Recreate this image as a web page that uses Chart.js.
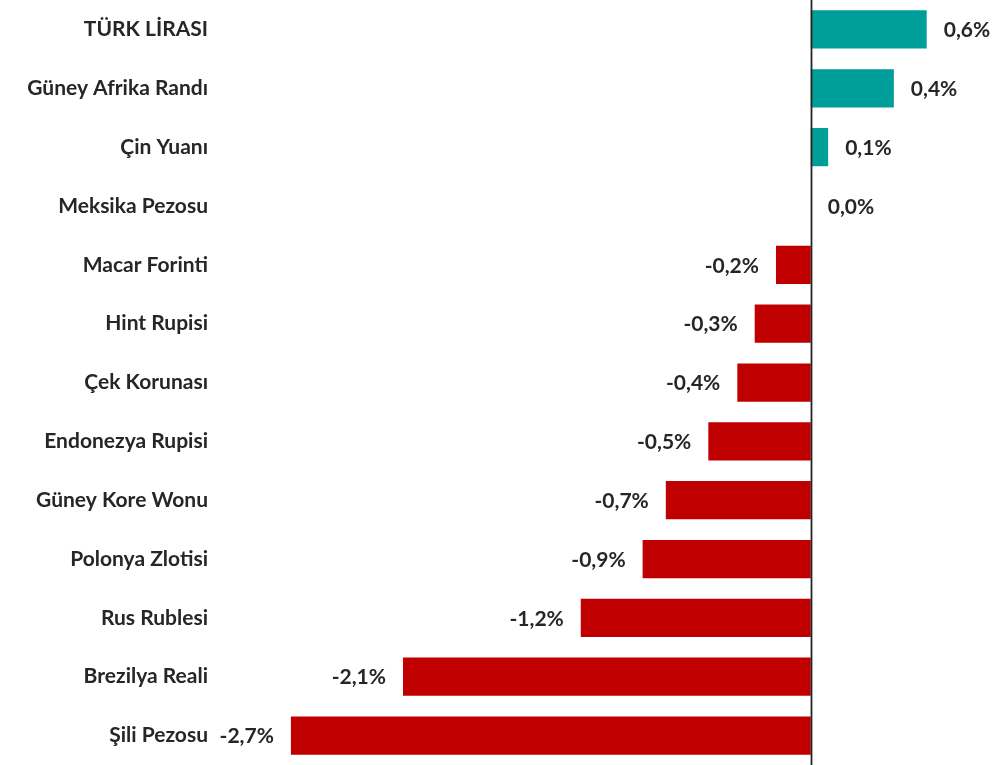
<!DOCTYPE html>
<html>
<head>
<meta charset="utf-8">
<script src="https://cdn.jsdelivr.net/npm/chart.js@4/dist/chart.umd.min.js"></script>
<style>
  html, body { margin: 0; padding: 0; background: #fff; }
  #wrap { width: 1007px; height: 765px; }
</style>
</head>
<body>
<div id="wrap"><canvas id="chart" width="1007" height="765"></canvas></div>
<script>
/*Data*/
var currencies = ['TÜRK LİRASI', 'Güney Afrika Randı', 'Çin Yuanı', 'Meksika Pezosu', 'Macar Forinti',
                  'Hint Rupisi', 'Çek Korunası', 'Endonezya Rupisi', 'Güney Kore Wonu', 'Polonya Zlotisi',
                  'Rus Rublesi', 'Brezilya Reali', 'Şili Pezosu'];
var changes = [0.6, 0.43, 0.09, 0.0, -0.18, -0.29, -0.38, -0.53, -0.75, -0.87, -1.19, -2.11, -2.69];
var changeLabels = ['0,6%', '0,4%', '0,1%', '0,0%', '-0,2%', '-0,3%', '-0,4%', '-0,5%', '-0,7%', '-0,9%',
                    '-1,2%', '-2,1%', '-2,7%'];

var FONT = 'Lato, "Open Sans", sans-serif';
var TEXT = '#262626';

/*Zero line + value labels*/
var valueLabels = {
    id: 'valueLabels',
    afterDatasetsDraw: function(chart) {
        var ctx = chart.ctx;
        var x = chart.scales.x;
        var zero = Math.round(x.getPixelForValue(0)) + 0.5;
        ctx.save();
        ctx.strokeStyle = '#262626';
        ctx.lineWidth = 1.8;
        ctx.beginPath();
        ctx.moveTo(zero, 0);
        ctx.lineTo(zero, chart.height);
        ctx.stroke();

        ctx.font = 'bold 21px ' + FONT;
        ctx.fillStyle = TEXT;
        ctx.textBaseline = 'middle';
        chart.getDatasetMeta(0).data.forEach(function(bar, i) {
            if (changes[i] >= 0) {
                ctx.textAlign = 'left';
                ctx.fillText(changeLabels[i], bar.x + 17, bar.y + 1);
            } else {
                ctx.textAlign = 'right';
                ctx.fillText(changeLabels[i], bar.x - 17, bar.y + 1);
            }
        });
        ctx.restore();
    }
};

new Chart(document.getElementById('chart').getContext('2d'), {
    type: 'bar',
    data: {
        labels: currencies,
        datasets: [{
            data: changes,
            backgroundColor: changes.map(function(v) { return v >= 0 ? '#009E99' : '#C00000'; }),
            borderWidth: 0,
            barPercentage: 0.65,
            categoryPercentage: 1.0
        }]
    },
    options: {
        indexAxis: 'y',
        responsive: false,
        animation: false,
        layout: { padding: { top: -2, bottom: -3, left: 0, right: 3 } },
        plugins: {
            legend: { display: false },
            tooltip: { enabled: false }
        },
        scales: {
            x: {
                min: -3.0,
                max: 1.0,
                display: false
            },
            y: {
                grid: { display: false, drawTicks: false },
                border: { display: false },
                afterFit: function(scale) {
                    scale.width = 231;
                    scale.paddingTop = -2;
                    scale.paddingBottom = -3;
                },
                ticks: {
                    padding: 23,
                    color: TEXT,
                    font: { family: FONT, size: 21, weight: 'bold' }
                }
            }
        }
    },
    plugins: [valueLabels]
});
</script>
</body>
</html>
